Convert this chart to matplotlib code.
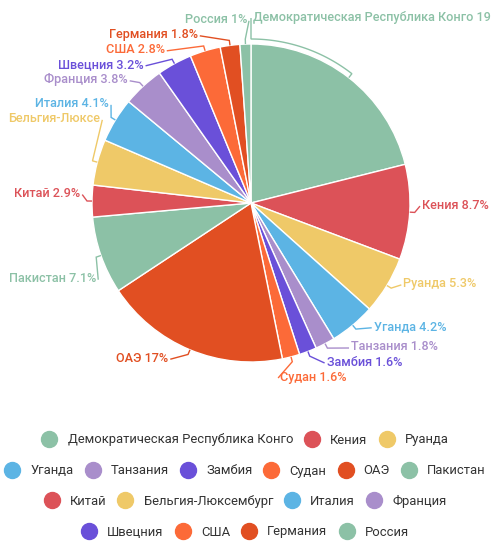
import numpy as np
import matplotlib
matplotlib.use("Agg")
import matplotlib.pyplot as plt
from matplotlib.lines import Line2D

# ---------------- data ----------------
countries = ["Демократическая Республика Конго", "Кения", "Руанда", "Уганда",
             "Танзания", "Замбия", "Судан", "ОАЭ", "Пакистан", "Китай",
             "Бельгия-Люксембург", "Италия", "Франция", "Швецния", "США",
             "Германия", "Россия"]
shares = [19, 8.7, 5.3, 4.2, 1.8, 1.6, 1.6, 17, 7.1, 2.9, 4.2, 4.1, 3.8,
          3.2, 2.8, 1.8, 1]
palette = ["#8cc1a6", "#dc5258", "#efc968", "#5cb4e4", "#a98ecb",
           "#6a50d9", "#fc6a38", "#e14f22"]
legend_rows = [3, 6, 4, 4]

# ---------------- layout (pixels, y down) ----------------
W, H = 501, 553
CX, CY = 251, 203
R = 159
LABEL_R = 176              # radius for natural label height
ELL_A, ELL_B, GAP = 167, 176, 4   # ellipse on which label edges sit
TOP, BOTTOM_BOUND = 17, 384.5
LINE_H = 15
MARGIN = 7
LABEL_FS = 9.1
LEGEND_FS = 9.4
LEGEND_CX = 245
legend_y = [440, 471, 501, 532]

plt.rcParams["font.family"] = ["Roboto", "DejaVu Sans"]

fig = plt.figure(figsize=(W / 100, H / 100), dpi=100)
ax = fig.add_axes([0, 0, 1, 1])
colors = [palette[i % len(palette)] for i in range(len(shares))]
wedges, _ = ax.pie(shares, colors=colors, startangle=90, counterclock=False,
                   center=(CX, H - CY), radius=R, frame=True,
                   wedgeprops=dict(edgecolor="white", linewidth=1))
ax.set_xlim(0, W)
ax.set_ylim(0, H)
ax.set_aspect("auto")
ax.axis("off")

renderer = fig.canvas.get_renderer()


def text_width(s):
    t = ax.text(0, 0, s, fontsize=LABEL_FS, fontweight="medium")
    w = t.get_window_extent(renderer).width
    t.remove()
    return w


def shift_layout(group, min_b, max_b, h):
    group.sort(key=lambda d: d["y"])
    n = len(group)
    if n < 2:
        return
    tops = [d["y"] - h / 2 for d in group]
    last, total = 0.0, 0.0
    for k in range(n):
        delta = tops[k] - last
        if delta < 0:
            tops[k] -= delta
        total += max(-delta, 0)
        last = tops[k] + h
    if total > 0:
        tops = [t - total / n for t in tops]

    def shift_list(delta, a, b):
        for k in range(a, b):
            tops[k] += delta

    def squeeze(delta, maxp):
        gaps = [max(tops[k] - tops[k - 1] - h, 0) for k in range(1, n)]
        tg = sum(gaps)
        if not tg:
            return
        p = min(abs(delta) / tg, maxp)
        if delta > 0:
            for k in range(n - 1):
                shift_list(gaps[k] * p, 0, k + 1)
        else:
            for k in range(n - 1, 0, -1):
                shift_list(-gaps[k - 1] * p, k, n)

    def gaps_mm():
        return tops[0] - min_b, max_b - tops[-1] - h

    mn, mx = gaps_mm()
    if mn < 0:
        squeeze(-mn, 0.8)
    if mx < 0:
        squeeze(mx, 0.8)
    mn, mx = gaps_mm()

    def take(g_this, g_other, direction):
        if g_this < 0:
            mv = min(g_other, -g_this)
            if mv > 0:
                shift_list(mv * direction, 0, n)
                rem = mv + g_this
                if rem < 0:
                    squeeze(-rem * direction, 1)
            else:
                squeeze(-g_this * direction, 1)

    take(mn, mx, 1)
    mn, mx = gaps_mm()
    take(mx, mn, -1)
    for d, t in zip(group, tops):
        d["y"] = t + h / 2


def x_off(y):
    dy = y - CY
    return ELL_A * np.sqrt(max(0.0, 1 - dy ** 2 / ELL_B ** 2)) + GAP


labels = [f"{c} {v:g}%" for c, v in zip(countries, shares)]
items = []
for i, w in enumerate(wedges):
    phi = np.deg2rad((w.theta1 + w.theta2) / 2)
    side = 1 if np.cos(phi) >= 0 else -1
    items.append(dict(i=i, phi=phi, side=side,
                      y=CY - LABEL_R * np.sin(phi), moved=False))

for side in (1, -1):
    grp = [d for d in items if d["side"] == side]
    shift_layout(grp, 0, BOTTOM_BOUND, LINE_H)
    top_free = all(d["y"] - TOP > LINE_H for d in grp)
    for k, d in enumerate(grp):
        w = text_width(labels[d["i"]])
        room = (W - MARGIN - CX - w) if side == 1 else (CX - MARGIN - w)
        if x_off(d["y"]) <= room:
            continue
        if room < GAP:
            if top_free:
                d["y"] = TOP
                d["moved"] = True
                top_free = False
            continue
        # slide away from the centre line until the label fits
        t = (room - 2 - GAP) / ELL_A
        dy_req = ELL_B * np.sqrt(max(0.0, 1 - t ** 2))
        if d["y"] >= CY:
            lim = grp[k + 1]["y"] - LINE_H if k + 1 < len(grp) else BOTTOM_BOUND
            d["y"] = min(CY + dy_req, lim)
        else:
            lim = grp[k - 1]["y"] + LINE_H if k > 0 else TOP
            d["y"] = max(CY - dy_req, lim)

for d in items:
    i, side = d["i"], d["side"]
    d["x"] = CX + side * (2 if d["moved"] else x_off(d["y"]))
    s = labels[i]
    avail = (W - MARGIN - d["x"]) if side == 1 else (d["x"] - MARGIN)
    while len(s) > 1 and text_width(s) > avail + 0.5:
        s = s[:-1]
    ha = "left" if side == 1 else "right"
    ax.text(d["x"], H - d["y"], s, color=colors[i], fontsize=LABEL_FS,
            fontweight="medium", ha=ha, va="center")
    # leader line
    phi = d["phi"]
    r1 = R + 5
    pts = [(CX + R * np.cos(phi), CY - R * np.sin(phi))]
    lx = d["x"] - side * 2
    ly = d["y"] + 1
    if d["moved"]:
        ang = np.arctan2(CY - ly, lx - CX)
        for a in np.linspace(phi, ang, 40):
            pts.append((CX + r1 * np.cos(a), CY - r1 * np.sin(a)))
    else:
        pts.append((CX + r1 * np.cos(phi), CY - r1 * np.sin(phi)))
    pts.append((lx, ly))
    ax.plot([p[0] for p in pts], [H - p[1] for p in pts], color=colors[i],
            lw=1, solid_joinstyle="miter", solid_capstyle="butt")

# ---------------- legend ----------------
handles = [Line2D([], [], marker="o", ls="", markersize=11.5,
                  markerfacecolor=c, markeredgecolor=c) for c in colors]
start = 0
for n, yy in zip(legend_rows, legend_y):
    hs = handles[start:start + n]
    ls = countries[start:start + n]
    start += n
    fig.legend(hs, ls, loc="center", bbox_to_anchor=(LEGEND_CX / W, 1 - yy / H),
               ncol=n, frameon=False, fontsize=LEGEND_FS,
               handlelength=1.23, handletextpad=0.77,
               columnspacing=0.85, borderpad=0, borderaxespad=0,
               labelcolor="#333333")

fig.savefig("out.png", dpi=100)
